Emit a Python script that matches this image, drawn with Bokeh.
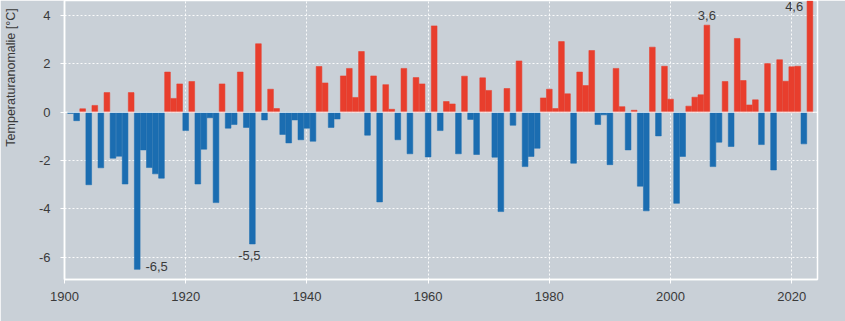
import math
from bokeh.plotting import figure
from bokeh.models import Range1d, Span, Label, FixedTicker, ColumnDataSource
from bokeh.embed import file_html
from bokeh.resources import INLINE

years = list(range(1901, 2024))
anomalies = [
    -0.05, -0.35, 0.14, -3.0, 0.28, -2.3, 0.81, -1.9, -1.82, -2.97,
    0.81, -6.5, -1.56, -2.29, -2.55, -2.73, 1.66, 0.57, 1.17, -0.76,
    1.27, -2.97, -1.53, -0.23, -3.74, 1.17, -0.66, -0.51, 1.66, -0.63,
    -5.45, 2.83, -0.32, 0.95, 0.15, -0.92, -1.27, -0.32, -1.14, -0.66,
    -1.2, 1.89, 1.21, -0.63, -0.28, 1.5, 1.81, 0.61, 2.51, -0.95,
    1.5, -3.71, 1.14, 0.12, -1.14, 1.81, -1.72, 1.43, 1.17, -1.85,
    3.57, -0.76, 0.44, 0.34, -1.72, 1.49, -0.3, -1.75, 1.42, 0.9,
    -1.86, -4.11, 0.98, -0.54, 2.12, -2.25, -1.83, -1.49, 0.59, 0.95,
    0.15, 2.92, 0.76, -2.11, 1.66, 1.1, 2.55, -0.51, -0.11, -2.17,
    1.81, 0.23, -1.56, 0.08, -3.06, -4.08, 2.69, -0.98, 1.9, 0.54,
    -3.77, -1.83, 0.25, 0.62, 0.72, 3.6, -2.25, -1.24, 1.27, -1.42,
    3.05, 1.31, 0.3, 0.51, -1.34, 2.01, -2.39, 2.17, 1.28, 1.88,
    1.9, -1.31, 4.6,
]
x_ticks = [1900, 1920, 1940, 1960, 1980, 2000, 2020]
y_ticks = [-6, -4, -2, 0, 2, 4]
y_title = "Temperaturanomalie [°C]"
annot_text = ["-6,5", "-5,5", "3,6", "4,6"]
annot_x = [1913.35, 1930.5, 2006.0, 2020.4]
annot_y = [-6.37, -5.93, 4.0, 4.62]

RED = "#e83e2d"
BLUE = "#1b6db1"
BG = "#c9d0d7"
TXT = "#3a3a3a"

colors = [RED if v > 0 else BLUE for v in anomalies]
src = ColumnDataSource(dict(year=years, value=anomalies, color=colors))

p = figure(width=845, height=321, output_backend="svg", toolbar_location=None,
           x_range=Range1d(1900, 2024.25), y_range=Range1d(-6.92, 4.62),
           min_border_left=64, min_border_right=28, min_border_top=0,
           min_border_bottom=42)

p.background_fill_color = BG
p.border_fill_color = BG
p.outline_line_color = "white"
p.outline_line_width = 1.5

for g in (p.xgrid, p.ygrid):
    g.grid_line_color = "white"
    g.grid_line_dash = "2 2"
    g.grid_line_width = 1
    g.grid_line_alpha = 0.9
p.xgrid.ticker = FixedTicker(ticks=x_ticks)
p.ygrid.ticker = FixedTicker(ticks=y_ticks)

p.add_layout(Span(location=0, dimension="width", line_color="white", line_width=1))

p.vbar(x="year", top="value", bottom=0, width=0.94, source=src,
       fill_color="color", line_color="color", line_alpha=0.55, line_width=1)

for ax in (p.xaxis, p.yaxis):
    ax.axis_line_color = "white"
    ax.axis_line_width = 1.5
    ax.major_tick_line_color = "white"
    ax.major_tick_out = 4
    ax.major_tick_in = 0
    ax.minor_tick_line_color = None
    ax.major_label_text_font = "Liberation Sans"
    ax.major_label_text_font_size = "13px"
    ax.major_label_text_color = TXT

p.xaxis.ticker = FixedTicker(ticks=x_ticks)
p.yaxis.ticker = FixedTicker(ticks=y_ticks)
p.yaxis.major_label_overrides = {t: str(t) for t in y_ticks}
p.xaxis.major_label_standoff = 8
p.yaxis.major_label_standoff = 10

# label sits in the upper part of the axis: pad its lower end with no-break spaces
p.yaxis.axis_label = "\u00a0" * 36 + y_title
p.yaxis.axis_label_standoff = 18
p.yaxis.axis_label_text_font = "Liberation Sans"
p.yaxis.axis_label_text_font_size = "12.5px"
p.yaxis.axis_label_text_font_style = "normal"
p.yaxis.axis_label_text_color = TXT

aligns = ["left", "center", "center", "center"]
baselines = ["middle", "middle", "middle", "top"]
for t, xx, yy, al, bl in zip(annot_text, annot_x, annot_y, aligns, baselines):
    p.add_layout(Label(x=xx, y=yy, text=t, text_align=al, text_baseline=bl,
                       y_offset=(-1 if bl == "top" else 0),
                       text_font="Liberation Sans", text_font_size="13px",
                       text_color=TXT))

open("out.html", "w").write(file_html(p, INLINE))
